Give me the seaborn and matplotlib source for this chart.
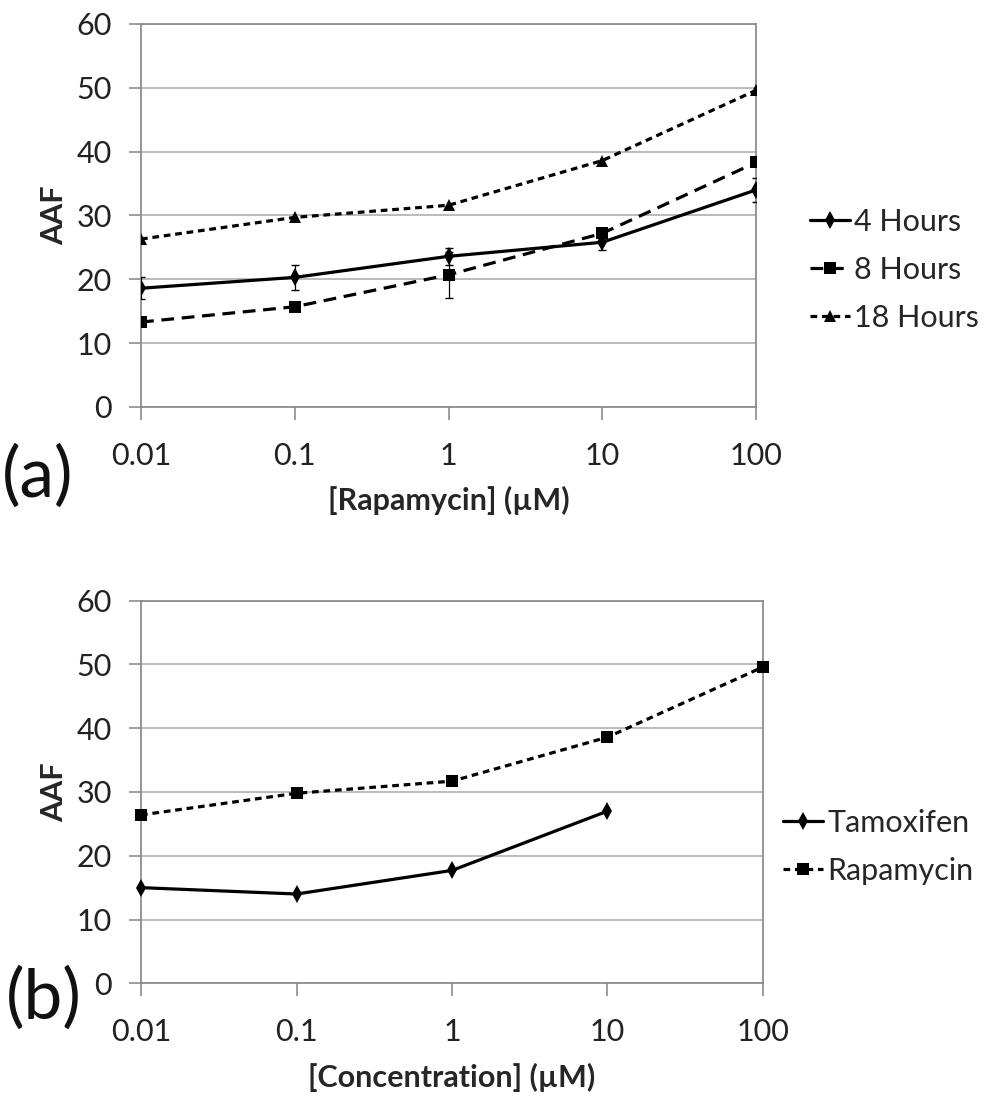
import matplotlib
matplotlib.use("Agg")
import matplotlib.pyplot as plt
import pandas as pd
import seaborn as sns

# panel (a): rapamycin time course
conc = [0.01, 0.1, 1, 10, 100]
aaf_4h = [18.6, 20.3, 23.6, 25.8, 34.0]
err_4h = [1.7, 1.9, 1.3, 1.2, 1.9]
aaf_8h = [13.3, 15.7, 20.7, 27.2, 38.3]
err_8h = [0.4, 0.4, 3.6, 0.5, 0.5]
aaf_18h = [26.3, 29.7, 31.6, 38.6, 49.6]

# panel (b): tamoxifen vs rapamycin
conc_tam = [0.01, 0.1, 1, 10]
tamoxifen = [15.0, 14.0, 17.7, 27.0]
conc_rap = [0.01, 0.1, 1, 10, 100]
rapamycin = [26.4, 29.8, 31.7, 38.6, 49.6]

tick_labels = ["0.01", "0.1", "1", "10", "100"]

df_a = pd.concat([
    pd.DataFrame({"conc": conc, "aaf": aaf_4h, "series": "4 Hours"}),
    pd.DataFrame({"conc": conc, "aaf": aaf_8h, "series": "8 Hours"}),
    pd.DataFrame({"conc": conc, "aaf": aaf_18h, "series": "18 Hours"}),
], ignore_index=True)

df_b = pd.concat([
    pd.DataFrame({"conc": conc_tam, "aaf": tamoxifen, "series": "Tamoxifen"}),
    pd.DataFrame({"conc": conc_rap, "aaf": rapamycin, "series": "Rapamycin"}),
], ignore_index=True)

sns.set_theme(style="white")
plt.rcParams["font.family"] = ["Lato", "DejaVu Sans"]

GRID = "#b5b5b5"
SPINE = "#8c8c8c"


def style_axes(ax, xlabel):
    ax.set_xscale("log")
    ax.set_xlim(0.01, 100)
    ax.set_ylim(0, 60)
    ax.set_xticks(conc)
    ax.set_xticklabels(tick_labels)
    ax.minorticks_off()
    ax.set_yticks(range(0, 61, 10))
    ax.yaxis.grid(True, color=GRID, linewidth=1.3)
    ax.xaxis.grid(False)
    for s in ax.spines.values():
        s.set_color(SPINE)
        s.set_linewidth(1.3)
    ax.tick_params(axis="both", which="major", direction="out", length=9, width=1.2,
                   color=SPINE, labelsize=22, labelcolor="#222222")
    ax.tick_params(axis="y", pad=12, left=True)
    ax.tick_params(axis="x", pad=16, bottom=True)
    ax.set_ylabel("AAF", fontsize=22, fontweight="bold", labelpad=6)
    ax.set_xlabel(xlabel, fontsize=22, fontweight="bold", labelpad=12)


fig = plt.figure(figsize=(9.91, 10.99), dpi=100)
ax_a = fig.add_axes([0.1423, 0.6297, 0.6206, 0.3485])
ax_b = fig.add_axes([0.1423, 0.1053, 0.6276, 0.3481])

# (a)
sns.lineplot(data=df_a, x="conc", y="aaf", hue="series", style="series",
             palette={"4 Hours": "black", "8 Hours": "black", "18 Hours": "black"},
             markers={"4 Hours": "d", "8 Hours": "s", "18 Hours": "^"},
             dashes={"4 Hours": "", "8 Hours": (4.0, 2.4), "18 Hours": (2.1, 1.5)},
             linewidth=2.3, markersize=9, markeredgewidth=0, ax=ax_a, zorder=3)
ax_a.errorbar(conc, aaf_4h, yerr=err_4h, fmt="none", ecolor="black", elinewidth=0.9, capsize=3, zorder=4)
ax_a.errorbar(conc, aaf_8h, yerr=err_8h, fmt="none", ecolor="black", elinewidth=0.9, capsize=3, zorder=4)
style_axes(ax_a, "[Rapamycin] (µM)")
ax_a.legend(loc="center left", bbox_to_anchor=(0.805, 0.7545), bbox_transform=fig.transFigure,
            frameon=False, fontsize=22, handlelength=1.3, handletextpad=0.15, labelspacing=0.65,
            borderaxespad=0)

# (b)
sns.lineplot(data=df_b, x="conc", y="aaf", hue="series", style="series",
             palette={"Tamoxifen": "black", "Rapamycin": "black"},
             markers={"Tamoxifen": "d", "Rapamycin": "s"},
             dashes={"Tamoxifen": "", "Rapamycin": (2.1, 1.5)},
             linewidth=2.3, markersize=9, markeredgewidth=0, ax=ax_b, zorder=3, clip_on=False)
style_axes(ax_b, "[Concentration] (µM)")
ax_b.legend(loc="center left", bbox_to_anchor=(0.778, 0.2295), bbox_transform=fig.transFigure,
            frameon=False, fontsize=22, handlelength=1.3, handletextpad=0.15, labelspacing=0.65,
            borderaxespad=0)

fig.text(0.002, 1 - 476 / 1099, "(a)", fontsize=50, va="center", ha="left", color="#111111")
fig.text(0.006, 1 - 998 / 1099, "(b)", fontsize=50, va="center", ha="left", color="#111111")

plt.savefig("out.png", dpi=100)
